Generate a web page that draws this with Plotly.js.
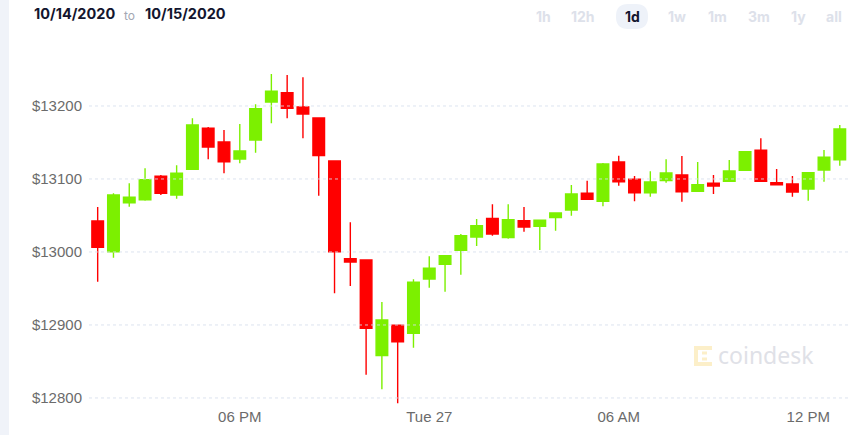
<!DOCTYPE html>
<html>
<head>
<meta charset="utf-8">
<script src="https://cdn.plot.ly/plotly-3.0.1.min.js"></script>
<style>
  html, body { margin: 0; padding: 0; background: #ffffff; }
  #chart { width: 860px; height: 435px; }
</style>
</head>
<body>
<div id="chart"></div>
<script>
// ---- data (30-minute candles) ----
const times = [
  "2020-10-26 13:30","2020-10-26 14:00","2020-10-26 14:30","2020-10-26 15:00","2020-10-26 15:30","2020-10-26 16:00",
  "2020-10-26 16:30","2020-10-26 17:00","2020-10-26 17:30","2020-10-26 18:00","2020-10-26 18:30","2020-10-26 19:00",
  "2020-10-26 19:30","2020-10-26 20:00","2020-10-26 20:30","2020-10-26 21:00","2020-10-26 21:30","2020-10-26 22:00",
  "2020-10-26 22:30","2020-10-26 23:00","2020-10-26 23:30","2020-10-27 00:00","2020-10-27 00:30","2020-10-27 01:00",
  "2020-10-27 01:30","2020-10-27 02:00","2020-10-27 02:30","2020-10-27 03:00","2020-10-27 03:30","2020-10-27 04:00",
  "2020-10-27 04:30","2020-10-27 05:00","2020-10-27 05:30","2020-10-27 06:00","2020-10-27 06:30","2020-10-27 07:00",
  "2020-10-27 07:30","2020-10-27 08:00","2020-10-27 08:30","2020-10-27 09:00","2020-10-27 09:30","2020-10-27 10:00",
  "2020-10-27 10:30","2020-10-27 11:00","2020-10-27 11:30","2020-10-27 12:00","2020-10-27 12:30","2020-10-27 13:00"
];
const openV = [13042.5,13000.4,13067.5,13071.6,13103.7,13078.1,13113.3,13169.5,13150.7,13127.4,13153.4,13205.5,
  13218.2,13198.6,13183.6,13124.7,12990.8,12989.0,12858.0,12899.6,12888.6,12963.0,12983.2,13002.3,
  13020.5,13046.1,13019.6,13042.9,13035.2,13047.0,13057.5,13080.4,13069.5,13123.3,13099.6,13081.2,
  13097.7,13105.5,13083.1,13094.1,13096.8,13111.8,13139.3,13094.9,13093.2,13086.3,13112.3,13126.4];
const highV = [13061.6,13080.4,13094.1,13114.7,13105.5,13118.8,13183.1,13171.2,13167.1,13175.3,13202.3,13243.8,
  13242.5,13239.3,13183.6,13124.7,13040.7,12989.0,12931.5,12899.6,12962.6,12994.1,12995.0,13024.7,
  13045.2,13065.3,13065.3,13061.6,13043.4,13053.4,13091.8,13097.7,13121.9,13131.9,13104.1,13110.5,
  13127.0,13131.5,13123.3,13105.5,13126.0,13138.4,13155.8,13113.7,13104.1,13109.6,13139.7,13174.0];
const lowV = [12959.3,12992.2,13062.1,13070.3,13078.1,13073.0,13113.0,13127.0,13107.8,13121.5,13136.0,13176.3,
  13183.1,13155.7,13077.2,12943.4,12953.4,12831.9,12811.9,12792.7,12868.9,12951.1,12945.6,12968.9,
  13008.2,13022.3,13018.2,13027.8,13002.7,13029.2,13049.7,13072.2,13062.6,13090.8,13069.5,13075.8,
  13094.9,13068.9,13083.1,13079.5,13096.8,13111.8,13096.8,13092.2,13075.8,13070.3,13096.3,13118.2];
const closeV = [13006.4,13078.1,13074.9,13099.0,13080.4,13107.8,13174.0,13143.8,13123.7,13138.4,13196.3,13220.1,
  13196.8,13189.0,13132.0,13000.4,12986.3,12895.5,12906.8,12877.1,12958.5,12977.7,12995.0,13022.3,
  13036.0,13024.7,13044.3,13034.2,13043.4,13053.4,13079.5,13072.2,13120.5,13096.3,13081.2,13095.9,
  13108.2,13082.6,13092.2,13090.4,13111.0,13137.4,13096.8,13092.2,13082.2,13108.6,13129.7,13168.5];

const xTickVals = ["2020-10-26 18:00","2020-10-27 00:00","2020-10-27 06:00","2020-10-27 12:00"];
const xTickText = ["06 PM","Tue 27","06 AM","12 PM"];
const yTickVals = [12800, 12900, 13000, 13100, 13200];
const yTickText = ["$12800","$12900","$13000","$13100","$13200"];

const rangeButtons = ["1h","12h","1d","1w","1m","3m","1y","all"];
const activeButton = "1d";
const dateFrom = "10/14/2020";
const dateTo = "10/15/2020";

// ---- layout helpers (pixel -> paper) ----
const W = 860, H = 435;
const M = {l: 89, r: 12, t: 50, b: 29};
const PW = W - M.l - M.r, PH = H - M.t - M.b;
const px = x => (x - M.l) / PW;
const py = y => (H - M.b - y) / PH;

const GREEN = "#7cf000", RED = "#ff0000";

const trace = {
  type: "candlestick",
  x: times, open: openV, high: highV, low: lowV, close: closeV,
  increasing: {line: {color: GREEN, width: 1.4}, fillcolor: GREEN},
  decreasing: {line: {color: RED, width: 1.4}, fillcolor: RED},
  whiskerwidth: 0,
  hoverinfo: "none",
  showlegend: false
};

const annotations = [];
const shapes = [];

// left strip
shapes.push({type: "rect", xref: "paper", yref: "paper", x0: px(0), x1: px(9), y0: py(435), y1: py(0),
  fillcolor: "#f0f3f9", line: {width: 0}, layer: "below"});

// dotted gridlines drawn above the candles, at the y tick values
yTickVals.forEach(v => {
  shapes.push({type: "line", xref: "paper", yref: "y", x0: 0, x1: 1, y0: v, y1: v,
    line: {color: "rgba(214,222,236,0.85)", width: 1, dash: "dot"}, layer: "above"});
});

// header date range
annotations.push({xref: "paper", yref: "paper", x: px(32), y: py(14), xanchor: "left", yanchor: "middle",
  text: "<b>" + dateFrom + "</b>", showarrow: false, font: {family: "Inter, 'DejaVu Sans', sans-serif", size: 14.5, color: "#13152e"}});
annotations.push({xref: "paper", yref: "paper", x: px(129), y: py(15), xanchor: "center", yanchor: "middle",
  text: "to", showarrow: false, font: {family: "Inter, sans-serif", size: 12, color: "#a3a7b3"}});
annotations.push({xref: "paper", yref: "paper", x: px(143), y: py(14), xanchor: "left", yanchor: "middle",
  text: "<b>" + dateTo + "</b>", showarrow: false, font: {family: "Inter, 'DejaVu Sans', sans-serif", size: 14.5, color: "#13152e"}});

// range buttons
const btnX = [543, 583, 632, 677, 717, 759, 798, 834];
rangeButtons.forEach((b, i) => {
  const active = b === activeButton;
  if (active) {
    const x0 = btnX[i] - 16, x1 = btnX[i] + 16, y0 = 4, y1 = 29, r = 12;
    shapes.push({type: "path", xref: "paper", yref: "paper",
      path: `M ${px(x0 + r)} ${py(y0)} L ${px(x1 - r)} ${py(y0)} Q ${px(x1)} ${py(y0)} ${px(x1)} ${py(y0 + r)} L ${px(x1)} ${py(y1 - r)} Q ${px(x1)} ${py(y1)} ${px(x1 - r)} ${py(y1)} L ${px(x0 + r)} ${py(y1)} Q ${px(x0)} ${py(y1)} ${px(x0)} ${py(y1 - r)} L ${px(x0)} ${py(y0 + r)} Q ${px(x0)} ${py(y0)} ${px(x0 + r)} ${py(y0)} Z`,
      fillcolor: "#eef2f9", line: {width: 0}, layer: "below"});
  }
  annotations.push({xref: "paper", yref: "paper", x: px(btnX[i]), y: py(17), xanchor: "center", yanchor: "middle",
    text: "<b>" + b + "</b>", showarrow: false,
    font: {family: "Inter, sans-serif", size: 14, color: active ? "#13152e" : "#dde1ea"}});
});

// watermark
annotations.push({xref: "paper", yref: "paper", x: px(716), y: py(355), xanchor: "left", yanchor: "middle",
  text: "coindesk", showarrow: false, font: {family: "'Noto Sans', sans-serif", size: 23, color: "#dfe1e7"}});
shapes.push({type: "path", xref: "paper", yref: "paper",
  path: `M ${px(712)} ${py(348)} L ${px(696)} ${py(348)} L ${px(696)} ${py(364)} L ${px(712)} ${py(364)}`,
  line: {color: "#fcefc9", width: 4}, layer: "below"});
shapes.push({type: "path", xref: "paper", yref: "paper",
  path: `M ${px(702)} ${py(353)} L ${px(707)} ${py(353)} M ${px(702)} ${py(359)} L ${px(707)} ${py(359)}`,
  line: {color: "#fcefc9", width: 3}, layer: "below"});

const layout = {
  width: W, height: H,
  margin: M,
  paper_bgcolor: "#ffffff",
  plot_bgcolor: "#ffffff",
  boxgap: 0.25,
  boxgroupgap: 0.02,
  showlegend: false,
  dragmode: false,
  xaxis: {
    type: "date",
    range: ["2020-10-26 13:13:30", "2020-10-27 13:15:36"],
    rangeslider: {visible: false},
    showgrid: false, zeroline: false, showline: false, ticks: "",
    tickmode: "array", tickvals: xTickVals, ticktext: xTickText,
    tickfont: {family: "'Liberation Sans Narrow', 'Arial Narrow', 'Liberation Sans', sans-serif", size: 15, color: "#6b6b6b"},
    fixedrange: true
  },
  yaxis: {
    range: [12789.0, 13276.7],
    showgrid: false, zeroline: false, showline: false, ticks: "",
    tickmode: "array", tickvals: yTickVals, ticktext: yTickText,
    ticklabelstandoff: 6,
    tickfont: {family: "'Liberation Sans Narrow', 'Arial Narrow', 'Liberation Sans', sans-serif", size: 15, color: "#6b6b6b"},
    fixedrange: true
  },
  shapes: shapes,
  annotations: annotations
};

Plotly.newPlot("chart", [trace], layout, {displayModeBar: false, staticPlot: true});
</script>
</body>
</html>
